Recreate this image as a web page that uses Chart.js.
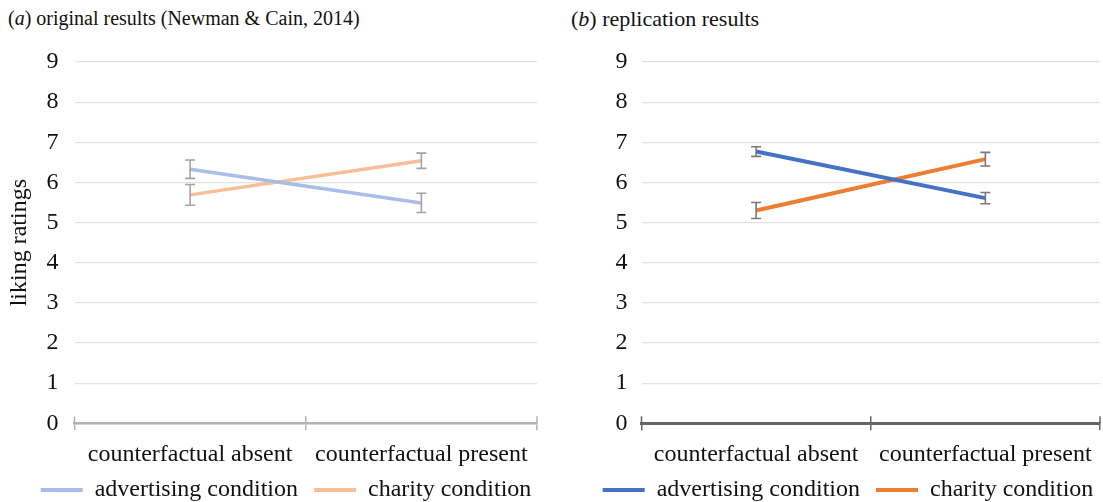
<!DOCTYPE html>
<html>
<head>
<meta charset="utf-8">
<script src="https://cdn.jsdelivr.net/npm/chart.js@4.4.0/dist/chart.umd.min.js"></script>
<style>
  html, body { margin: 0; padding: 0; background: #fff; overflow: hidden; }
  #page { position: relative; width: 1103px; height: 502px; overflow: hidden; }
  canvas { position: absolute; top: 0; }
  .ptitle { position: absolute; font-family: "Liberation Serif", serif; color: #111; white-space: nowrap; }
</style>
</head>
<body>
<div id="page">
  <div class="ptitle" style="left:8px; top:7px; font-size:20px">(<i>a</i>) original results (Newman &amp; Cain, 2014)</div>
  <div class="ptitle" style="left:571px; top:6px; font-size:22px">(<i>b</i>) replication results</div>
  <canvas id="chartA" width="582" height="512" style="left:-20px"></canvas>
  <canvas id="chartB" width="560" height="512" style="left:556px"></canvas>
</div>
<script>
// data
const conditions = ["counterfactual absent", "counterfactual present"];
const seriesNames = ["advertising condition", "charity condition"];

// (a) original results
const origAdvertising = [6.33, 5.49];
const origAdvertisingErr = [0.23, 0.24];
const origCharity = [5.69, 6.54];
const origCharityErr = [0.26, 0.19];

// (b) replication results
const repAdvertising = [6.77, 5.61];
const repAdvertisingErr = [0.12, 0.14];
const repCharity = [5.30, 6.58];
const repCharityErr = [0.2, 0.17];

const yTicks = [0, 1, 2, 3, 4, 5, 6, 7, 8, 9];

const serif = "'Liberation Serif', 'Times New Roman', serif";

// error bars + the upper half of the x tick marks
const errorBars = {
    id: "errorBars",
    afterDatasetsDraw(chart, args, opts) {
        const ctx = chart.ctx;
        const y = chart.scales.y;
        const x = chart.scales.x;
        ctx.save();
        ctx.strokeStyle = opts.color;
        ctx.lineWidth = 1.6;
        chart.data.datasets.forEach((ds, i) => {
            const meta = chart.getDatasetMeta(i);
            meta.data.forEach((pt, j) => {
                const top = y.getPixelForValue(ds.data[j] + ds.errors[j]);
                const bot = y.getPixelForValue(ds.data[j] - ds.errors[j]);
                ctx.beginPath();
                ctx.moveTo(pt.x, top);
                ctx.lineTo(pt.x, bot);
                ctx.moveTo(pt.x - 5, top);
                ctx.lineTo(pt.x + 5, top);
                ctx.moveTo(pt.x - 5, bot);
                ctx.lineTo(pt.x + 5, bot);
                ctx.stroke();
            });
        });
        ctx.strokeStyle = opts.axisColor;
        ctx.lineWidth = 1.5;
        const y0 = y.getPixelForValue(0);
        [-0.5, 0.5, 1.5].forEach(v => {
            const px = x.getPixelForValue(v);
            ctx.beginPath();
            ctx.moveTo(px, y0 - 7);
            ctx.lineTo(px, y0);
            ctx.stroke();
        });
        ctx.restore();
    }
};

function makeChart(id, adv, advErr, cha, chaErr, colors, axisColor, opt) {
    const ctx = document.getElementById(id).getContext("2d");
    return new Chart(ctx, {
        type: "line",
        data: {
            labels: conditions,
            datasets: [{
                label: seriesNames[0],
                data: adv,
                errors: advErr,
                borderColor: colors[0],
                backgroundColor: colors[0],
                borderWidth: opt.lineWidth,
                pointRadius: 0,
                tension: 0
            }, {
                label: seriesNames[1],
                data: cha,
                errors: chaErr,
                borderColor: colors[1],
                backgroundColor: colors[1],
                borderWidth: opt.lineWidth,
                pointRadius: 0,
                tension: 0
            }]
        },
        options: {
            responsive: false,
            animation: false,
            devicePixelRatio: 1,
            layout: { padding: { top: 62, right: opt.padRight, bottom: 0, left: opt.padLeft } },
            plugins: {
                tooltip: { enabled: false },
                errorBars: { color: opt.errColor, axisColor: axisColor },
                legend: {
                    position: "bottom",
                    labels: {
                        boxWidth: 42,
                        boxHeight: 4,
                        padding: 4,
                        color: "#111",
                        font: { family: serif, size: 24 },
                        generateLabels(chart) {
                            return Chart.defaults.plugins.legend.labels.generateLabels(chart).map((l, i) => {
                                l.lineWidth = 0;
                                // a bit of air between the two entries
                                if (i === 0) l.text = l.text + "\u2002";
                                return l;
                            });
                        }
                    }
                }
            },
            scales: {
                x: {
                    offset: true,
                    grid: {
                        offset: true,
                        drawOnChartArea: false,
                        drawTicks: true,
                        tickLength: 7,
                        color: axisColor,
                        lineWidth: 1.5
                    },
                    border: { display: true, color: axisColor, width: opt.axisWidth },
                    ticks: {
                        color: "#111",
                        padding: 10,
                        maxRotation: 0,
                        font: { family: serif, size: 24 }
                    },
                    afterFit(scale) { scale.height = 50.7; }
                },
                y: {
                    min: 0,
                    max: 9,
                    afterBuildTicks(scale) { scale.ticks = yTicks.map(v => ({ value: v })); },
                    grid: { color: "#e2e2e2", lineWidth: 1.2, drawTicks: false },
                    border: { display: false },
                    ticks: {
                        color: "#111",
                        padding: opt.tickPad,
                        font: { family: serif, size: 24 }
                    },
                    title: {
                        display: opt.yTitle !== "",
                        text: opt.yTitle,
                        color: "#111",
                        padding: { top: opt.titlePad },
                        font: { family: serif, size: 24 }
                    },
                    afterFit(scale) { scale.width = opt.yWidth; }
                }
            }
        },
        plugins: [errorBars]
    });
}

makeChart("chartA", origAdvertising, origAdvertisingErr, origCharity, origCharityErr,
    ["#a9bde8", "#f7be97"], "#b3b3b3",
    { lineWidth: 3.5, padLeft: 55, padRight: 25, yWidth: 39.5, tickPad: 16, axisWidth: 2.5,
      yTitle: "liking ratings", titlePad: -29.4, errColor: "#a3a3a3" });

makeChart("chartB", repAdvertising, repAdvertisingErr, repCharity, repCharityErr,
    ["#4472c4", "#ed7d31"], "#666666",
    { lineWidth: 4, padLeft: 40, padRight: 16, yWidth: 45.5, tickPad: 14, axisWidth: 3,
      yTitle: "", titlePad: 0, errColor: "#7a7a7a" });
</script>
</body>
</html>
